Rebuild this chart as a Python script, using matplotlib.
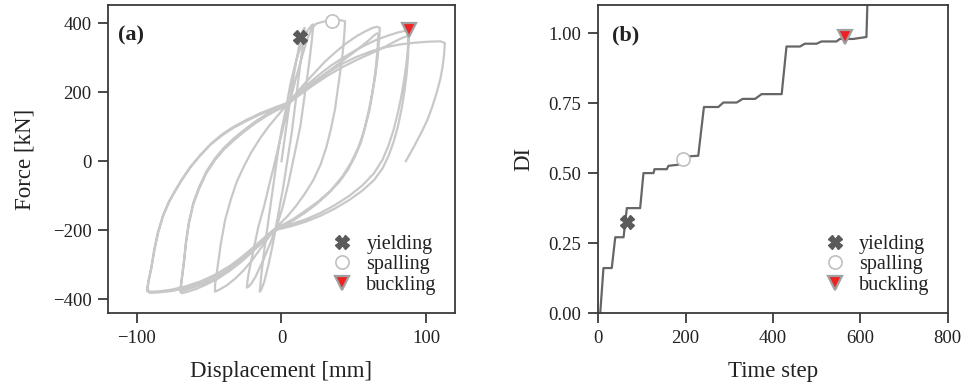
import matplotlib
matplotlib.use("Agg")
import matplotlib.pyplot as plt

plt.rcParams['font.family'] = ['Liberation Serif', 'DejaVu Serif']

# ---- Panel (a): force-displacement hysteresis (traced vertices, mm / kN) ----
cyc1_disp = [0, 3, 6, 9, 12, 13, 15, 16, 15, 13, 10, 7, 4, 1, -3, -6, -9, -12, -14, -15,
             -14, -12, -9, -6, -3, 0, 3]
cyc1_force = [0, 90, 180, 260, 330, 360, 380, 386, 340, 280, 180, 80, 0, -80, -170, -240, -300, -350, -372, -378,
              -330, -260, -170, -80, 10, 90, 150]

cyc2_disp = [6, 10, 14, 18, 21, 22, 21, 19, 16, 13, 9, 5, 1, -3, -8, -13, -18, -21, -23, -24,
             -23, -21, -19, -16, -12, -8, -5, -2, 0.5, 3, 6, 10, 14, 18, 21, 24, 29, 35, 40, 44]
cyc2_force = [220, 290, 340, 378, 394, 396, 350, 280, 190, 100, 20, -60, -130, -185, -240, -290, -335, -355, -364, -366,
              -330, -290, -250, -190, -130, -60, -10, 45, 85, 130, 175, 240, 300, 355, 385, 398, 404, 407, 409, 405]

cyc3_disp = [43.5, 42.5, 41, 39, 37, 34, 31, 27, 22, 16, 10, 4, -2, -8, -14, -20, -26, -32, -38, -43, -46,
             -46, -44, -42, -39, -35, -31, -26, -21, -15, -9, -3, 2, 8, 15, 22, 30, 38, 45, 52, 58, 63, 66, 68]
cyc3_force = [370, 320, 270, 210, 150, 90, 40, -10, -55, -95, -130, -160, -185, -215, -250, -285, -315, -340, -360, -372, -378,
              -360, -300, -240, -170, -110, -60, -15, 25, 65, 100, 130, 155, 185, 220, 252, 288, 318, 342, 362, 376, 386, 389, 386]

cyc4_disp = [67.5, 66.5, 65, 63, 61, 58, 55, 51, 46, 40, 32, 24, 16, 8, 0, -6, -12, -20, -28, -36, -44, -52, -59, -65, -69, -70]
cyc4_force = [350, 300, 250, 200, 150, 100, 55, 15, -25, -60, -95, -125, -150, -172, -190, -205, -230, -262, -292, -318, -340, -357, -370, -378, -382, -378]

cyc4b_disp = [-69, -67.5, -66, -64, -61, -57, -52, -46, -40, -33, -26, -18, -10, -3, 3, 10, 18, 26, 34, 42, 50, 56, 61, 64, 66, 67,
              66.5, 65.5, 64, 62, 59.5, 56.5, 53, 48, 42, 34, 25, 16, 8, 0, -6, -13, -21, -29, -37, -45, -53, -60, -66, -69, -70]
cyc4b_force = [-345, -295, -235, -180, -125, -80, -35, 3, 33, 60, 85, 110, 132, 148, 160, 185, 213, 240, 265, 290, 315, 335, 352, 364, 370, 368,
               330, 280, 230, 180, 130, 80, 38, -5, -45, -85, -118, -145, -168, -186, -200, -228, -260, -290, -315, -336, -352, -364, -372, -375, -372]

cyc4c_disp = [-69, -67.5, -66, -64, -61, -57, -52, -46, -40, -33, -26, -18, -10, -3, 3, 10, 18, 26, 34, 42, 50,
              58, 66, 74, 80, 85, 88]
cyc4c_force = [-340, -290, -230, -175, -120, -75, -30, 8, 38, 66, 90, 115, 137, 152, 165, 192, 222, 250, 276, 298, 318,
               336, 352, 364, 372, 377, 378]

cyc5_disp = [88, 87.5, 86.5, 85, 83, 80.5, 77.5, 74, 70, 64, 56, 47, 37, 27, 17, 7, -3, -10, -18, -27, -36, -46, -56, -66,
             -76, -85, -91, -93]
cyc5_force = [350, 300, 250, 200, 150, 100, 55, 15, -20, -55, -85, -112, -137, -158, -175, -188, -198, -220, -250, -282, -310, -335, -353, -367,
              -376, -380, -381, -376]

cyc5b_disp = [-92, -90, -88, -85.5, -82, -78, -74, -69, -63, -56, -49, -41, -33, -24, -14, -5, 3, 12, 22, 32, 42, 52, 62, 70, 77, 82, 86, 88,
              87.5, 86.5, 85, 83, 80.5, 77.5, 74, 70, 64, 56, 47, 37, 27, 17, 7, -3, -10, -18, -27, -36, -46, -56, -66, -76, -85, -91, -93]
cyc5b_force = [-345, -305, -255, -205, -158, -118, -88, -53, -16, 18, 48, 75, 97, 117, 137, 152, 164, 190, 220, 248, 272, 293, 312, 328, 343, 354, 361, 362,
               330, 285, 240, 190, 140, 90, 45, 5, -35, -70, -100, -127, -150, -168, -182, -193, -214, -244, -276, -304, -329, -348, -362, -372, -377, -378, -372]

cyc5c_disp = [-92, -90, -88, -85.5, -82, -78, -74, -69, -63, -56, -49, -41, -33, -24, -14, -5, 3, 12,
              22, 32, 42, 52, 62, 72, 82, 92, 102, 110, 113]
cyc5c_force = [-350, -310, -260, -210, -160, -120, -90, -55, -18, 18, 50, 78, 100, 120, 140, 155, 167, 195,
               228, 256, 282, 302, 318, 330, 338, 343, 346, 347, 342]

cyc6_disp = [112.5, 111.5, 110, 107.5, 104.5, 101, 97, 92, 86]
cyc6_force = [310, 275, 240, 200, 160, 120, 85, 45, 0]

# event markers (a)
yield_a = (13, 360)
spall_a = (35, 407)
buckle_a = (88, 380)

# ---- Panel (b): damage index vs time step ----
time_step = [4.6, 12, 31, 39, 58, 65.5, 96, 103.6, 126.5, 128.8, 157, 160.8, 183.6, 187.5,
             208.8, 229, 242, 275, 286.5, 317, 330.7, 359, 374, 420, 431, 462, 473, 500,
             511, 545.6, 553, 583.7, 614, 618]
di_values = [0, 0.161, 0.161, 0.271, 0.271, 0.375, 0.375, 0.5, 0.5, 0.514, 0.514, 0.526,
             0.53, 0.539, 0.56, 0.562, 0.736, 0.736, 0.752, 0.752, 0.765, 0.765, 0.782,
             0.782, 0.952, 0.952, 0.962, 0.962, 0.970, 0.970, 0.979, 0.979, 0.986, 1.2]

yield_b = (66, 0.327)
spall_b = (195, 0.55)
buckle_b = (564, 0.986)

disp_path = (cyc1_disp + cyc2_disp + cyc3_disp + cyc4_disp + cyc4b_disp + cyc4c_disp
             + cyc5_disp + cyc5b_disp + cyc5c_disp + cyc6_disp)
force_path = (cyc1_force + cyc2_force + cyc3_force + cyc4_force + cyc4b_force + cyc4c_force
              + cyc5_force + cyc5b_force + cyc5c_force + cyc6_force)

fig = plt.figure(figsize=(9.68, 3.89), dpi=100)
ax1 = fig.add_axes([0.1116, 0.195, 0.3584, 0.792])
ax2 = fig.add_axes([0.618, 0.195, 0.361, 0.792])

spine_col = '#3a3a3a'
text_col = '#222222'
for ax in (ax1, ax2):
    for s in ax.spines.values():
        s.set_color(spine_col)
        s.set_linewidth(1.3)
    ax.tick_params(direction='out', length=7, width=1.3, pad=5, color=spine_col,
                   labelsize=13.5, labelcolor=text_col)

ax1.plot(disp_path, force_path, color='#c8c8c8', lw=1.6, zorder=1, solid_joinstyle='round')


def markers(ax, y, s, b):
    ax.plot(*y, marker='X', ms=9.5, color='#5a5a5a', mec='#5a5a5a', ls='none', label='yielding', zorder=3)
    ax.plot(*s, marker='o', ms=9.5, mfc='white', mec='#c0c0c0', mew=1.2, ls='none', label='spalling', zorder=3)
    ax.plot(*b, marker='v', ms=10, mfc='#ee2222', mec='#a0a0a0', mew=1.6, ls='none', label='buckling', zorder=3)
    leg = ax.legend(loc='lower right', frameon=False, fontsize=14.5, handletextpad=0.5,
                    labelspacing=0.08, borderaxespad=0.5, handlelength=1.4)
    for t in leg.get_texts():
        t.set_color(text_col)
    return leg


markers(ax1, yield_a, spall_a, buckle_a)
ax1.set_xlim(-120, 120)
ax1.set_ylim(-440, 452)
ax1.set_xticks([-100, 0, 100])
ax1.set_yticks([-400, -200, 0, 200, 400])
ax1.set_xlabel('Displacement [mm]', fontsize=16.5, color=text_col, labelpad=10)
ax1.set_ylabel('Force [kN]', fontsize=16.5, color=text_col, labelpad=12)
ax1.text(0.03, 0.935, '(a)', transform=ax1.transAxes, fontsize=16, fontweight='bold', va='top', color=text_col)

ax2.plot(time_step, di_values, color='#666666', lw=1.6, zorder=1)
markers(ax2, yield_b, spall_b, buckle_b)
ax2.set_xlim(0, 800)
ax2.set_ylim(0, 1.1)
ax2.set_xticks([0, 200, 400, 600, 800])
ax2.set_yticks([0, 0.25, 0.5, 0.75, 1.0])
ax2.set_yticklabels(['0.00', '0.25', '0.50', '0.75', '1.00'])
ax2.set_xlabel('Time step', fontsize=16.5, color=text_col, labelpad=10)
ax2.set_ylabel('DI', fontsize=16.5, color=text_col, labelpad=10)
ax2.text(0.04, 0.935, '(b)', transform=ax2.transAxes, fontsize=16, fontweight='bold', va='top', color=text_col)

fig.savefig('out.png', dpi=100)
